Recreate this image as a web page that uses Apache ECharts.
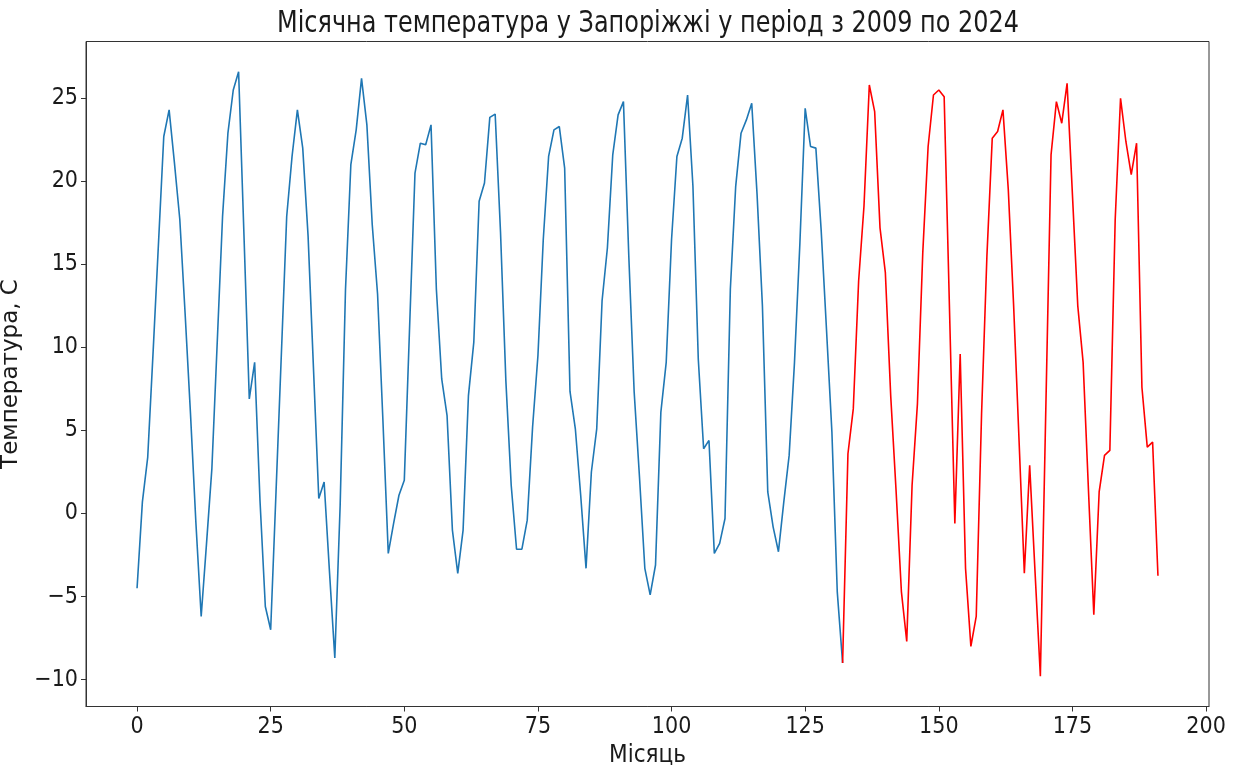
<!DOCTYPE html>
<html>
<head>
<meta charset="utf-8">
<script src="https://cdn.jsdelivr.net/npm/echarts@6/dist/echarts.min.js"></script>
<style>
html,body{margin:0;padding:0;background:#fff;}
#chart{width:1240px;height:765px;}
</style>
</head>
<body>
<div id="chart"></div>
<script>
// Monthly mean temperature, months 0..131 (2009-2019)
const tempsBlue = [
  -4.5, 0.7, 3.4, 9.7, 16.2, 22.7, 24.3, 21.1, 17.7, 12.0, 6.0, -0.5,
  -6.2, -1.8, 2.7, 10.3, 17.9, 22.9, 25.5, 26.6, 16.8, 6.9, 9.1, 0.8,
  -5.6, -7.0, 1.3, 9.6, 17.9, 21.5, 24.3, 22.0, 16.7, 8.8, 0.9, 1.9,
  -3.5, -8.7, 0.5, 13.5, 21.0, 23.1, 26.2, 23.4, 17.4, 13.2, 5.6, -2.4,
  -0.6, 1.1, 2.0, 11.3, 20.5, 22.3, 22.2, 23.4, 13.5, 8.1, 5.9, -1.0,
  -3.6, -1.0, 7.1, 10.3, 18.8, 19.9, 23.85, 24.05, 16.95, 8.0, 1.7, -2.15,
  -2.15, -0.4, 5.2, 9.5, 16.5, 21.5, 23.1, 23.3, 20.8, 7.35, 5.1, 1.1,
  -3.3, 2.5, 5.1, 12.8, 16.0, 21.6, 24.0, 24.8, 15.5, 7.35, 2.2, -3.3,
  -4.9, -3.1, 6.1, 9.1, 16.5, 21.5, 22.6, 25.2, 19.7, 9.3, 3.9, 4.4,
  -2.4, -1.8, -0.3, 13.5, 19.7, 22.9, 23.7, 24.7, 19.2, 12.5, 1.3, -0.8,
  -2.3, 0.7, 3.5, 9.1, 16.2, 24.4, 22.1, 22.0, 17.0, 11.0, 4.9, -4.7
];
// months 132..191 (2020-2024)
const tempsRed = [
  -9.0, 3.6, 6.3, 14.0, 18.5, 25.8, 24.2, 17.2, 14.5, 7.1, 1.4, -4.7,
  -7.7, 1.7, 6.6, 15.7, 22.1, 25.2, 25.5, 25.1, 12.3, -0.6, 9.6, -3.3,
  -8.0, -6.2, 6.0, 15.5, 22.6, 23.0, 24.3, 19.5, 12.5, 4.5, -3.6, 2.9,
  -3.5, -9.8, 6.0, 21.6, 24.8, 23.5, 25.9, 19.2, 12.5, 9.1, 1.4, -6.1,
  1.3, 3.5, 3.8, 17.7, 25.0, 22.4, 20.4, 22.3, 7.6, 4.0, 4.3, -3.75
];
const xTicks = [0, 25, 50, 75, 100, 125, 150, 175, 200];
const yTicks = [-10, -5, 0, 5, 10, 15, 20, 25];
const titleText = 'Місячна температура у Запоріжжі у період з 2009 по 2024';
const xName = 'Місяць';
const yName = 'Температура, С';

const redStart = tempsBlue.length;
const blueData = tempsBlue.map((v, i) => [i, v]);
blueData.push([redStart, tempsRed[0]]);
const redData = tempsRed.map((v, i) => [redStart + i, v]);

const narrow = '"Liberation Sans Narrow", "DejaVu Sans Condensed", "DejaVu Sans", sans-serif';
const fmt = v => (v < 0 ? '\u2212' + Math.abs(v) : String(v));

// title drawn as narrow (horizontally compressed) text like the reference
const titleFont = '31px "DejaVu Sans"';
const mctx = document.createElement('canvas').getContext('2d');
mctx.font = titleFont;
const titleScale = 742 / mctx.measureText(titleText).width;

const chart = echarts.init(document.getElementById('chart'), null, {renderer: 'canvas'});
chart.setOption({
  animation: false,
  backgroundColor: '#ffffff',
  graphic: [{
    type: 'text', x: 648, y: 24, scaleX: titleScale, silent: true,
    style: {text: titleText, font: titleFont, fill: '#1a1a1a', align: 'center', verticalAlign: 'middle'}
  }],
  grid: {
    left: 86, right: 31, top: 41.5, bottom: 58.5,
    show: true, borderColor: '#333', borderWidth: 1,
    containLabel: false, outerBoundsMode: 'none'
  },
  xAxis: {
    type: 'value', min: -9.55, max: 200.55,
    name: xName, nameLocation: 'middle', nameGap: 37,
    nameTextStyle: {fontFamily: narrow, fontSize: 24, color: '#1a1a1a'},
    axisLine: {show: true, onZero: false, lineStyle: {color: '#333', width: 1}},
    axisTick: {show: true, length: 5, lineStyle: {color: '#333'}, customValues: xTicks},
    axisLabel: {customValues: xTicks, formatter: fmt, margin: 9, fontFamily: narrow, fontSize: 23, color: '#1a1a1a'},
    splitLine: {show: false}
  },
  yAxis: {
    type: 'value', min: -11.62, max: 28.42,
    name: yName, nameLocation: 'middle', nameGap: 63, nameRotate: 90,
    nameTextStyle: {fontFamily: '"DejaVu Sans", sans-serif', fontSize: 23, color: '#1a1a1a'},
    axisLine: {show: true, onZero: false, lineStyle: {color: '#333', width: 1}},
    axisTick: {show: true, length: 5, lineStyle: {color: '#333'}, customValues: yTicks},
    axisLabel: {customValues: yTicks, formatter: fmt, margin: 8, fontFamily: narrow, fontSize: 23, color: '#1a1a1a'},
    splitLine: {show: false}
  },
  series: [
    {type: 'line', data: blueData, showSymbol: false, symbol: 'none',
     lineStyle: {color: '#1f77b4', width: 1.6}, itemStyle: {color: '#1f77b4'}},
    {type: 'line', data: redData, showSymbol: false, symbol: 'none',
     lineStyle: {color: '#ff0000', width: 1.6}, itemStyle: {color: '#ff0000'}}
  ]
});
</script>
</body>
</html>
